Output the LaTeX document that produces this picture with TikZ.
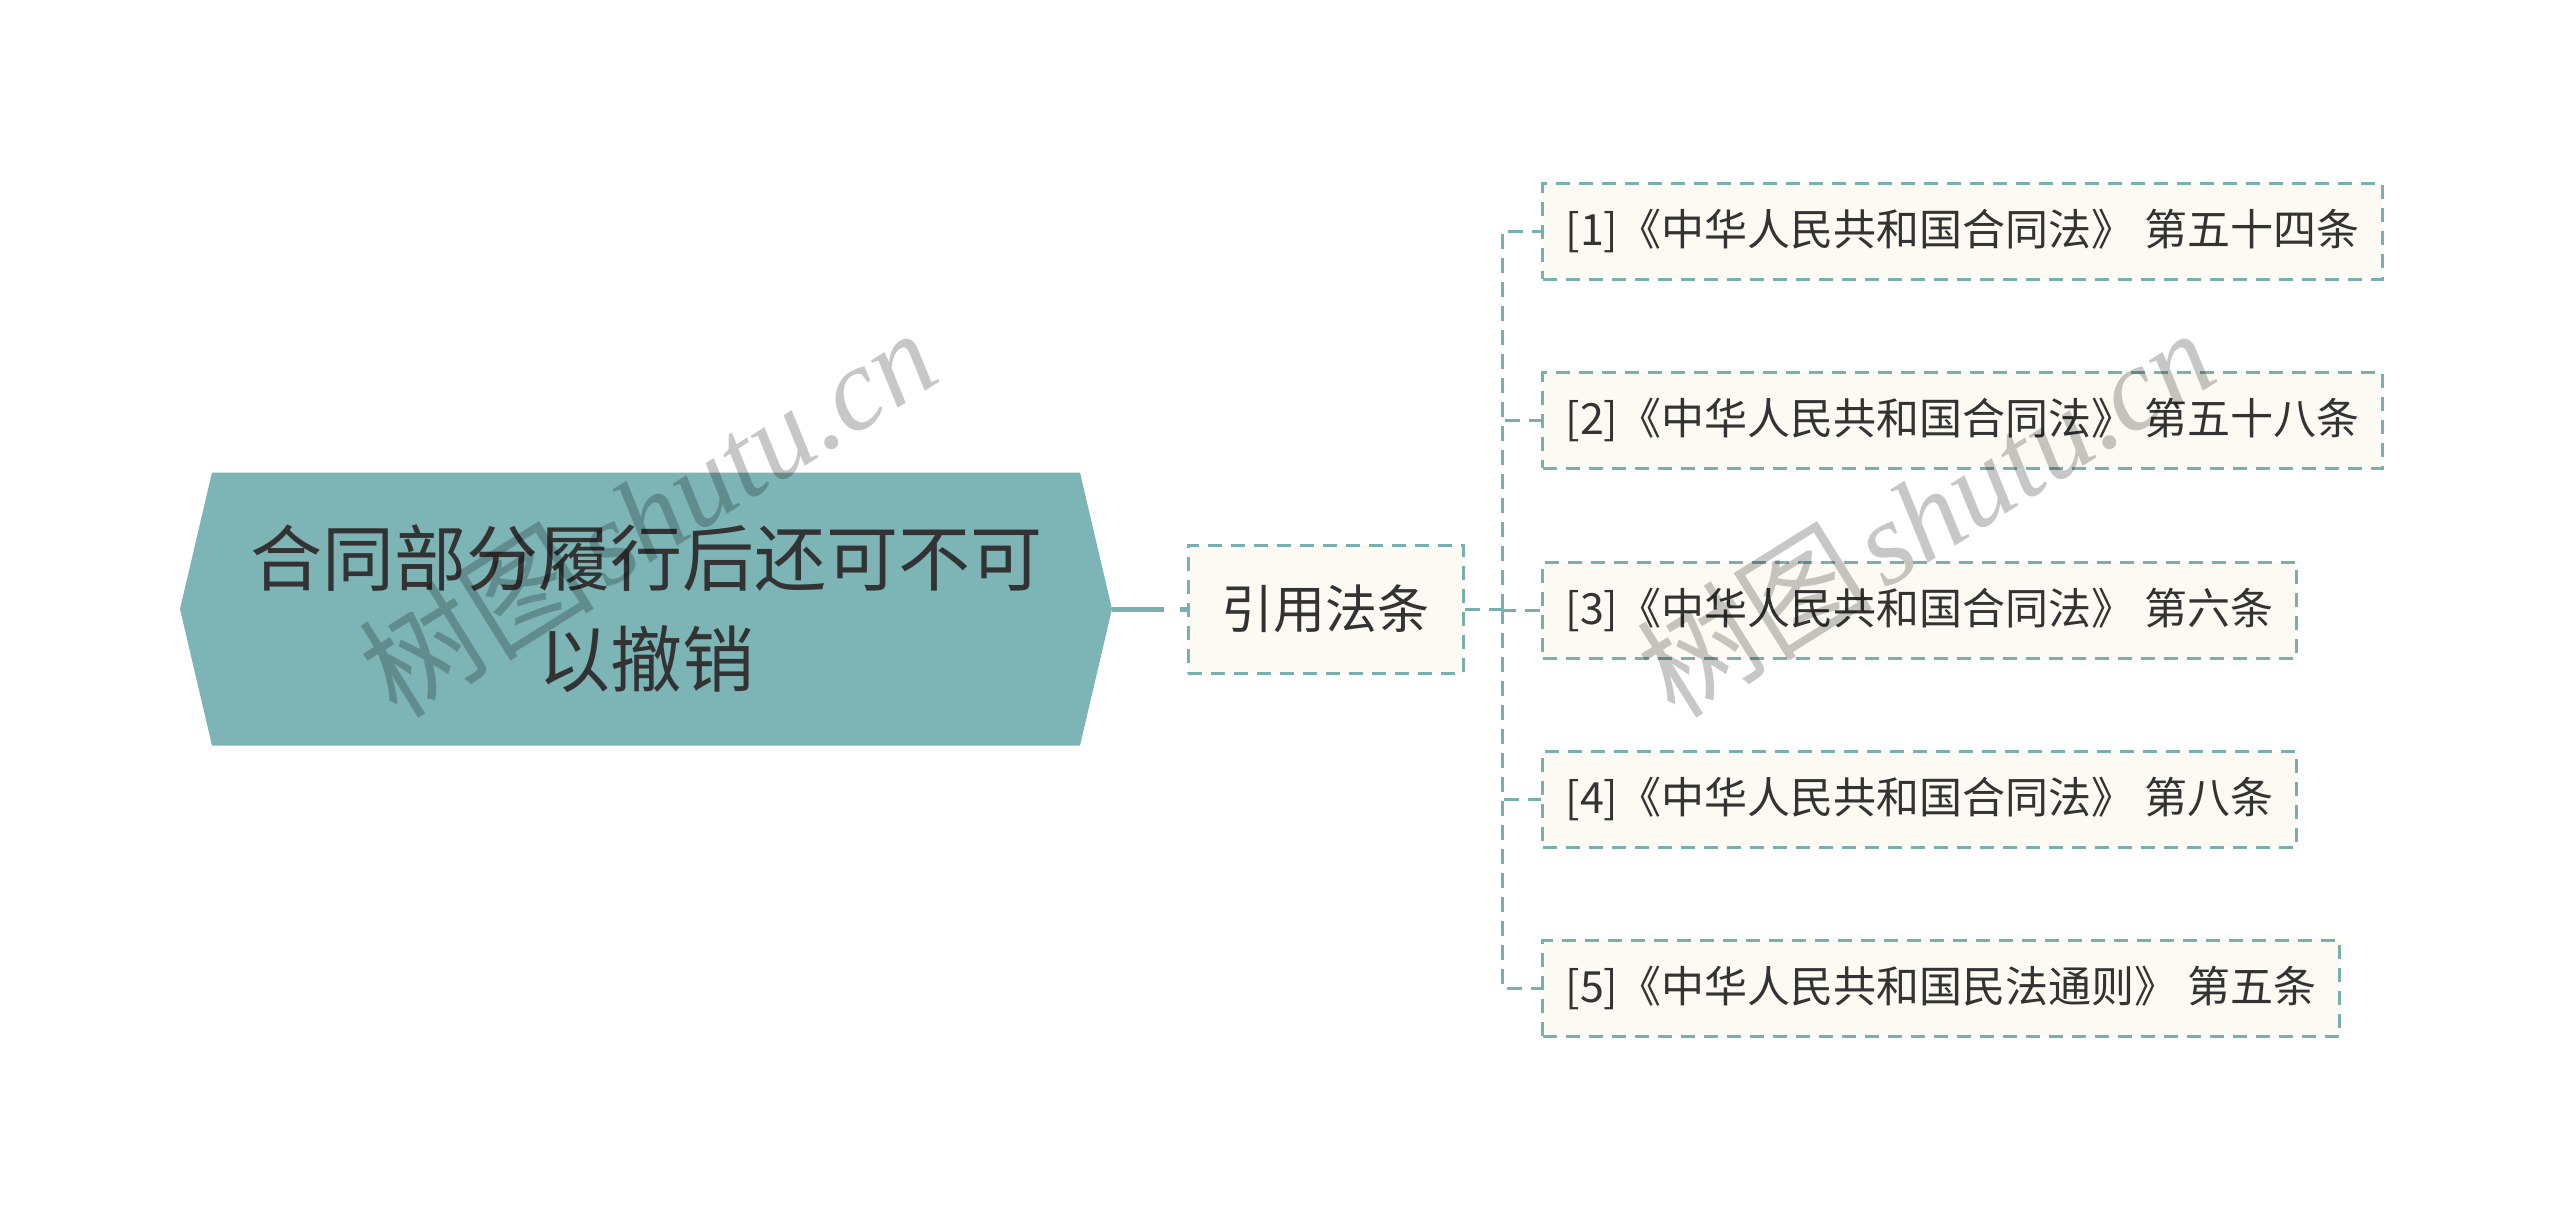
\documentclass[tikz,border=0pt]{standalone}
\usepackage{fontspec}
\newfontfamily\cjk{Noto Sans CJK SC}
\newfontfamily\wmlatin{Liberation Serif}
\usetikzlibrary{shapes.symbols}
\definecolor{tealline}{HTML}{7AAFB0}
\definecolor{tealfill}{HTML}{7DB4B5}
\definecolor{cream}{HTML}{FCFAF2}
\definecolor{txt}{HTML}{333333}
\begin{document}
\begin{tikzpicture}[x=1pt,y=-1pt,
  rootbox/.style={signal, signal to=west and east, signal pointer angle=153.6,
    fill=tealfill, draw=none, minimum width=932pt, minimum height=273pt,
    inner sep=0pt, text=txt, font=\cjk\fontsize{72}{101}\selectfont, align=center},
  midbox/.style={rectangle, fill=cream, draw=tealline, line width=3pt,
    dash pattern=on 14pt off 9pt, minimum width=275pt, minimum height=128pt,
    inner sep=0pt, text=txt, font=\cjk\fontsize{52}{60}\selectfont},
  leafbox/.style={rectangle, fill=cream, draw=tealline, line width=3pt,
    dash pattern=on 14pt off 9pt, minimum height=96pt, inner xsep=23pt,
    inner ysep=0pt, anchor=west, text=txt, font=\cjk\fontsize{43}{50}\selectfont},
  thickconn/.style={draw=tealline, line width=5pt, dash pattern=on 52pt off 16pt on 10pt off 100pt},
  dashconn/.style={draw=tealline, line width=3pt, dash pattern=on 15pt off 9pt},
  wm/.style={text=black, text opacity=0.22, font=\fontsize{118}{120}\selectfont}
]
\useasboundingbox[fill=white] (0,0) rectangle (2560,1219);

\node[rootbox] (root) at (646,609) {合同部分履行后还可不可\\以撤销};
\node[midbox] (law) at (1325.5,609) {引用法条};

\node[leafbox] (c1) at (1541,231) {[1]《中华人民共和国合同法》 第五十四条};
\node[leafbox] (c2) at (1541,420) {[2]《中华人民共和国合同法》 第五十八条};
\node[leafbox] (c3) at (1541,610) {[3]《中华人民共和国合同法》 第六条};
\node[leafbox] (c4) at (1541,799) {[4]《中华人民共和国合同法》 第八条};
\node[leafbox] (c5) at (1541,988) {[5]《中华人民共和国民法通则》 第五条};

\coordinate (bus) at (1502,609);

\draw[thickconn] (root.east) -- (law.west);
\draw[dashconn] (law.east) -- (bus);
\foreach \c in {c1,c2,c3,c4,c5}{
  \draw[dashconn] (bus) |- (\c.west);
}

\node[wm, rotate=32] (wm1) at (647,512) {\cjk 树图\hspace{12pt}{\wmlatin\itshape shutu.cn}};
\node[wm, rotate=32] (wm2) at (1925,512) {\cjk 树图\hspace{12pt}{\wmlatin\itshape shutu.cn}};
\end{tikzpicture}
\end{document}
